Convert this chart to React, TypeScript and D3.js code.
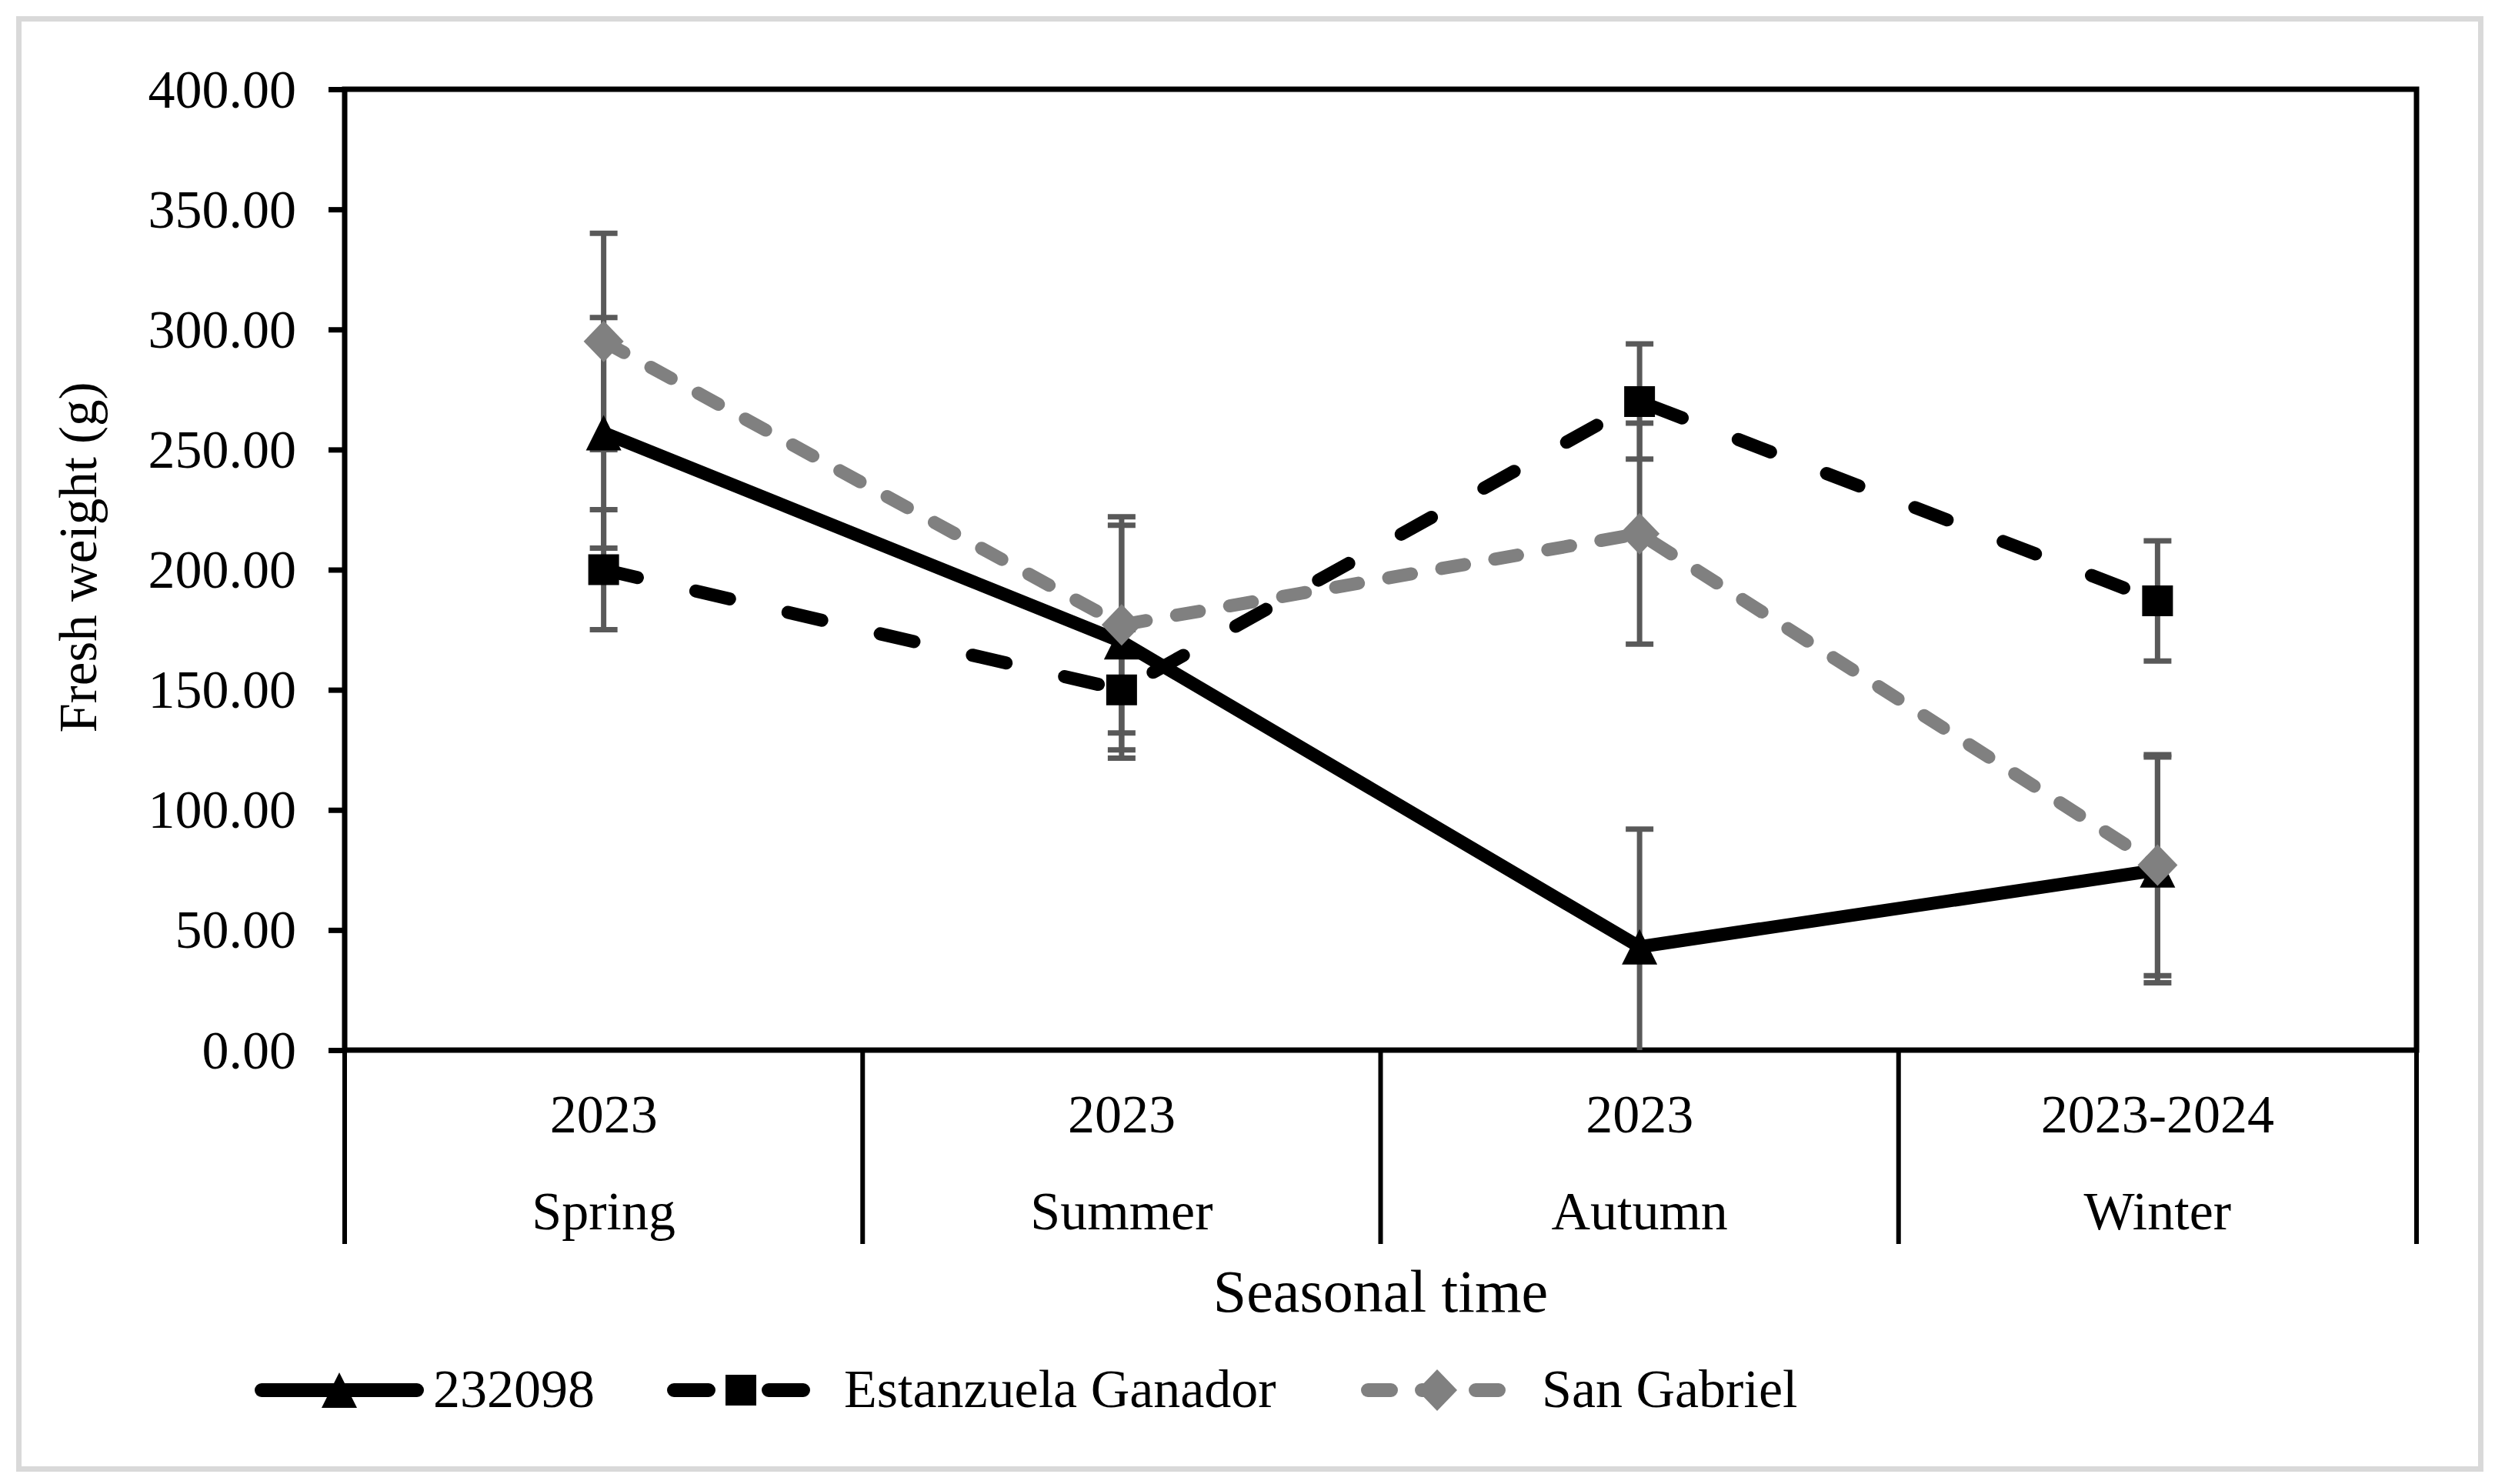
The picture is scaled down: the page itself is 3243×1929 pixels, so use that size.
import { useEffect, useRef } from "react";
import * as d3 from "d3";

const seasons = ["Spring", "Summer", "Autumn", "Winter"];
const years = ["2023", "2023", "2023", "2023-2024"];
const yTicks = [0, 50, 100, 150, 200, 250, 300, 350, 400];

const seriesNames = ["232098", "Estanzuela Ganador", "San Gabriel"];
const values232098 = [257, 170, 43, 75];
const errors232098 = [48, 48.5, 49, 47];
const valuesEstanzuela = [200, 150, 270, 187];
const errorsEstanzuela = [25, 25, 24, 25];
const valuesSanGabriel = [295, 177, 215, 77];
const errorsSanGabriel = [45, 45, 46, 46];

const W = 3243;
const H = 1929;
const FONT = "'Liberation Serif', 'Times New Roman', serif";

type Shape = "triangle" | "square" | "diamond";

interface Series {
  name: string;
  values: number[];
  errors: number[];
  color: string;
  dash: string | null;
  shape: Shape;
}

const series: Series[] = [
  { name: seriesNames[0], values: values232098, errors: errors232098, color: "#000000", dash: null, shape: "triangle" },
  { name: seriesNames[1], values: valuesEstanzuela, errors: errorsEstanzuela, color: "#000000", dash: "45 78", shape: "square" },
  { name: seriesNames[2], values: valuesSanGabriel, errors: errorsSanGabriel, color: "#808080", dash: "30 40", shape: "diamond" },
];

// marker outline centred on (cx, cy)
const markerPath = (shape: Shape, cx: number, cy: number) => {
  if (shape === "triangle") {
    const h = 23;
    return `M${cx},${cy - h}L${cx + h},${cy + h}L${cx - h},${cy + h}Z`;
  }
  if (shape === "square") {
    const h = 20;
    return `M${cx - h},${cy - h}H${cx + h}V${cy + h}H${cx - h}Z`;
  }
  const hx = 26;
  const hy = 27;
  return `M${cx},${cy - hy}L${cx + hx},${cy}L${cx},${cy + hy}L${cx - hx},${cy}Z`;
};

const App = () => {
  const svgRef = useRef<SVGSVGElement>(null);

  useEffect(() => {
    if (!svgRef.current) return;
    const svg = d3.select(svgRef.current);
    svg.selectAll("*").remove();

    const left = 448;
    const right = 3141;
    const top = 116;
    const bottom = 1365;

    const x = d3.scaleBand<string>().domain(seasons).range([left, right]).padding(0);
    const cx = (s: string) => (x(s) || 0) + x.bandwidth() / 2;
    const y = d3.scaleLinear().domain([0, 400]).range([bottom, top]);

    // outer border
    svg
      .append("rect")
      .attr("x", 24.5)
      .attr("y", 24.5)
      .attr("width", 3200)
      .attr("height", 1885)
      .attr("fill", "#ffffff")
      .attr("stroke", "#d9d9d9")
      .attr("stroke-width", 7);

    svg
      .append("defs")
      .append("clipPath")
      .attr("id", "plot-clip")
      .append("rect")
      .attr("x", left)
      .attr("y", top)
      .attr("width", right - left)
      .attr("height", bottom - top);

    // y axis
    svg
      .append("g")
      .attr("transform", `translate(${left},0)`)
      .call(
        d3
          .axisLeft(y)
          .tickValues(yTicks)
          .tickFormat(d3.format(".2f"))
          .tickSize(21)
          .tickSizeOuter(0)
          .tickPadding(42)
      )
      .call((g) => g.select(".domain").remove())
      .call((g) => g.selectAll(".tick line").attr("stroke", "#000").attr("stroke-width", 7))
      .call((g) =>
        g
          .selectAll(".tick text")
          .attr("fill", "#000")
          .attr("dy", "0.33em")
          .style("font-family", FONT)
          .style("font-size", "70px")
      );

    // plot frame
    svg
      .append("rect")
      .attr("x", left)
      .attr("y", top)
      .attr("width", right - left)
      .attr("height", bottom - top)
      .attr("fill", "none")
      .attr("stroke", "#000")
      .attr("stroke-width", 7);

    // multi-level category axis
    const catBottom = 1617;
    const seps = [...seasons.map((s) => x(s) || 0), right];
    svg
      .append("g")
      .selectAll("line")
      .data(seps)
      .join("line")
      .attr("x1", (d) => d)
      .attr("x2", (d) => d)
      .attr("y1", bottom)
      .attr("y2", catBottom)
      .attr("stroke", "#000")
      .attr("stroke-width", 6);

    const catText = svg
      .append("g")
      .style("font-family", FONT)
      .style("font-size", "70px")
      .attr("text-anchor", "middle");
    catText
      .selectAll(".year")
      .data(seasons)
      .join("text")
      .attr("class", "year")
      .attr("x", (d) => cx(d))
      .attr("y", 1472)
      .text((_, i) => years[i]);
    catText
      .selectAll(".season")
      .data(seasons)
      .join("text")
      .attr("class", "season")
      .attr("x", (d) => cx(d))
      .attr("y", 1598)
      .text((d) => d);

    // axis titles
    svg
      .append("text")
      .attr("x", (left + right) / 2)
      .attr("y", 1705)
      .attr("text-anchor", "middle")
      .style("font-family", FONT)
      .style("font-size", "78px")
      .text("Seasonal time");

    svg
      .append("text")
      .attr("transform", `translate(125,${(top + bottom) / 2 - 16}) rotate(-90)`)
      .attr("text-anchor", "middle")
      .style("font-family", FONT)
      .style("font-size", "69px")
      .text("Fresh weight (g)");

    const plot = svg.append("g");

    // error bars
    const errG = plot.append("g").attr("clip-path", "url(#plot-clip)");
    series.forEach((s) => {
      s.values.forEach((v, i) => {
        const px = cx(seasons[i]);
        const hi = y(v + s.errors[i]);
        const lo = y(v - s.errors[i]);
        errG.append("line").attr("x1", px).attr("x2", px).attr("y1", hi).attr("y2", lo)
          .attr("stroke", "#595959").attr("stroke-width", 7);
        [hi, lo].forEach((yy) =>
          errG.append("line").attr("x1", px - 18).attr("x2", px + 18).attr("y1", yy).attr("y2", yy)
            .attr("stroke", "#595959").attr("stroke-width", 7)
        );
      });
    });

    const line = d3
      .line<number>()
      .x((_, i) => cx(seasons[i]))
      .y((d) => y(d));

    series.forEach((s) => {
      plot
        .append("path")
        .attr("d", line(s.values) || "")
        .attr("fill", "none")
        .attr("stroke", s.color)
        .attr("stroke-width", 17)
        .attr("stroke-linecap", s.dash ? "round" : "butt")
        .attr("stroke-linejoin", "round")
        .attr("stroke-dasharray", s.dash);
      plot
        .append("g")
        .selectAll("path")
        .data(s.values)
        .join("path")
        .attr("d", (d, i) => markerPath(s.shape, cx(seasons[i]), y(d)))
        .attr("fill", s.color);
    });

    // legend
    const legendY = 1807;
    const legendItems = [
      { x0: 340, x1: 542, textX: 563 },
      { x0: 876, x1: 1050, textX: 1097 },
      { x0: 1778, x1: 1958, textX: 2004 },
    ];
    const legend = svg.append("g");
    series.forEach((s, i) => {
      const it = legendItems[i];
      legend
        .append("line")
        .attr("x1", it.x0)
        .attr("x2", it.x1)
        .attr("y1", legendY)
        .attr("y2", legendY)
        .attr("stroke", s.color)
        .attr("stroke-width", 18)
        .attr("stroke-linecap", "round")
        .attr("stroke-dasharray", s.dash);
      legend
        .append("path")
        .attr("d", markerPath(s.shape, (it.x0 + it.x1) / 2, legendY))
        .attr("fill", s.color);
      legend
        .append("text")
        .attr("x", it.textX)
        .attr("y", legendY + 22)
        .style("font-family", FONT)
        .style("font-size", "70px")
        .text(s.name);
    });
  }, []);

  return (
    <svg
      ref={svgRef}
      width={W}
      height={H}
      viewBox={`0 0 ${W} ${H}`}
      style={{ position: "absolute", left: 0, top: 0, background: "#ffffff" }}
    />
  );
};

export default App;
